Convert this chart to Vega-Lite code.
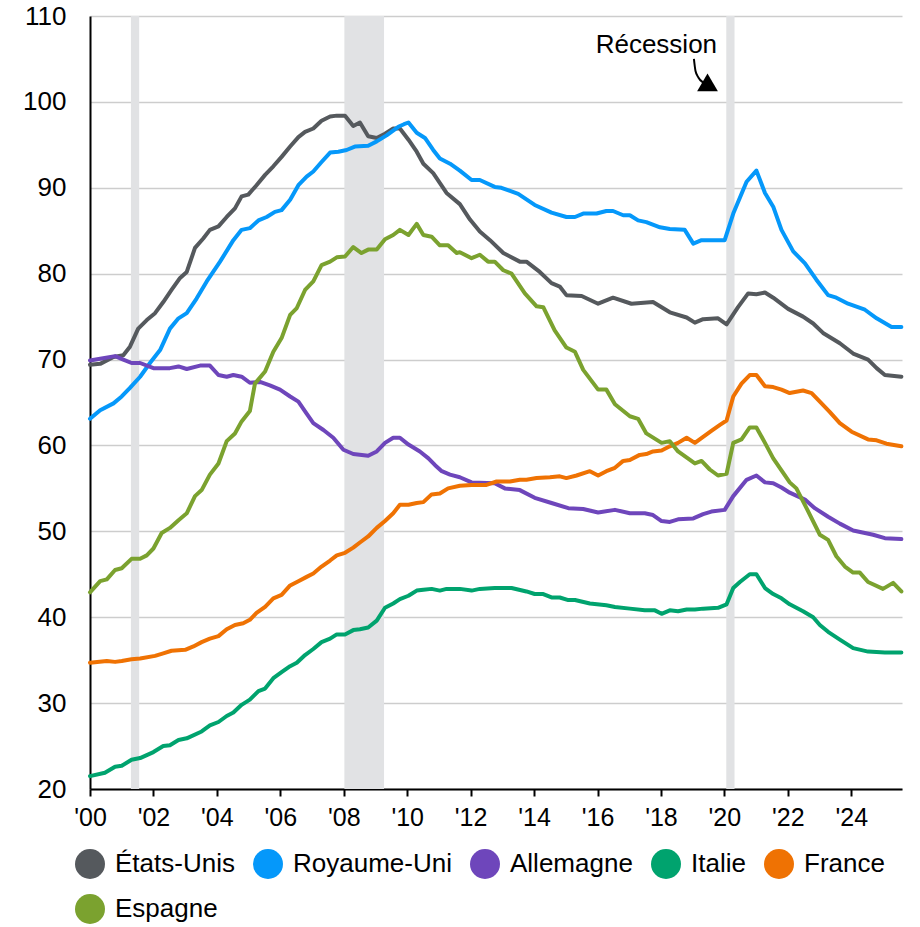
{
  "$schema": "https://vega.github.io/schema/vega-lite/v6.json",
  "autosize": "none",
  "width": 812,
  "height": 773,
  "padding": {"left": 90, "top": 16, "right": 18, "bottom": 138},
  "background": "white",
  "config": {
    "view": {"stroke": null},
    "font": "Liberation Sans",
    "axis": {"labelFont": "Liberation Sans", "labelColor": "#000000"}
  },
  "datasets": {
    "rec": [
      {"start": 2001.29, "end": 2001.55},
      {"start": 2008.02, "end": 2009.27},
      {"start": 2020.06, "end": 2020.32}
    ],
    "arrowline": [
      {"t": 2019.04, "v": 105.0},
      {"t": 2019.09, "v": 103.6},
      {"t": 2019.18, "v": 102.85},
      {"t": 2019.35, "v": 102.2},
      {"t": 2019.45, "v": 101.95}
    ],
    "arrowhead": [{"t": 2019.55, "v": 101.75}],
    "label": [{"t": 2019.77, "v": 105.7, "txt": "Récession"}],
    "series": [
      {"s":"États-Unis","t":2000.0,"v":69.4},{"s":"États-Unis","t":2000.32,"v":69.5},{"s":"États-Unis","t":2000.74,"v":70.3},{"s":"États-Unis","t":2001.05,"v":70.5},{"s":"États-Unis","t":2001.26,"v":71.5},{"s":"États-Unis","t":2001.52,"v":73.6},{"s":"États-Unis","t":2001.79,"v":74.6},{"s":"États-Unis","t":2002.05,"v":75.4},{"s":"États-Unis","t":2002.31,"v":76.7},{"s":"États-Unis","t":2002.57,"v":78.1},{"s":"États-Unis","t":2002.84,"v":79.5},{"s":"États-Unis","t":2003.05,"v":80.2},{"s":"États-Unis","t":2003.31,"v":83.0},{"s":"États-Unis","t":2003.57,"v":84.1},{"s":"États-Unis","t":2003.78,"v":85.1},{"s":"États-Unis","t":2004.05,"v":85.5},{"s":"États-Unis","t":2004.31,"v":86.6},{"s":"États-Unis","t":2004.57,"v":87.6},{"s":"États-Unis","t":2004.78,"v":89.0},{"s":"États-Unis","t":2004.99,"v":89.2},{"s":"États-Unis","t":2005.25,"v":90.3},{"s":"États-Unis","t":2005.52,"v":91.5},{"s":"États-Unis","t":2005.78,"v":92.5},{"s":"États-Unis","t":2006.04,"v":93.6},{"s":"États-Unis","t":2006.31,"v":94.8},{"s":"États-Unis","t":2006.57,"v":95.9},{"s":"États-Unis","t":2006.78,"v":96.5},{"s":"États-Unis","t":2007.04,"v":96.9},{"s":"États-Unis","t":2007.3,"v":97.8},{"s":"États-Unis","t":2007.57,"v":98.3},{"s":"États-Unis","t":2007.78,"v":98.4},{"s":"États-Unis","t":2008.04,"v":98.4},{"s":"États-Unis","t":2008.3,"v":97.2},{"s":"États-Unis","t":2008.51,"v":97.6},{"s":"États-Unis","t":2008.77,"v":96.0},{"s":"États-Unis","t":2009.04,"v":95.8},{"s":"États-Unis","t":2009.3,"v":96.3},{"s":"États-Unis","t":2009.56,"v":96.9},{"s":"États-Unis","t":2009.77,"v":96.9},{"s":"États-Unis","t":2010.04,"v":95.6},{"s":"États-Unis","t":2010.3,"v":94.2},{"s":"États-Unis","t":2010.51,"v":92.8},{"s":"États-Unis","t":2010.82,"v":91.7},{"s":"États-Unis","t":2011.24,"v":89.4},{"s":"États-Unis","t":2011.66,"v":88.1},{"s":"États-Unis","t":2011.98,"v":86.3},{"s":"États-Unis","t":2012.29,"v":84.9},{"s":"États-Unis","t":2012.61,"v":83.9},{"s":"États-Unis","t":2013.03,"v":82.4},{"s":"États-Unis","t":2013.55,"v":81.4},{"s":"États-Unis","t":2013.76,"v":81.4},{"s":"États-Unis","t":2014.18,"v":80.2},{"s":"États-Unis","t":2014.55,"v":78.9},{"s":"États-Unis","t":2014.81,"v":78.5},{"s":"États-Unis","t":2015.02,"v":77.5},{"s":"États-Unis","t":2015.5,"v":77.4},{"s":"États-Unis","t":2016.02,"v":76.5},{"s":"États-Unis","t":2016.49,"v":77.2},{"s":"États-Unis","t":2017.07,"v":76.5},{"s":"États-Unis","t":2017.75,"v":76.7},{"s":"États-Unis","t":2018.28,"v":75.5},{"s":"États-Unis","t":2018.81,"v":74.9},{"s":"États-Unis","t":2019.07,"v":74.3},{"s":"États-Unis","t":2019.33,"v":74.7},{"s":"États-Unis","t":2019.8,"v":74.8},{"s":"États-Unis","t":2020.07,"v":74.1},{"s":"États-Unis","t":2020.43,"v":76.1},{"s":"États-Unis","t":2020.75,"v":77.7},{"s":"États-Unis","t":2021.01,"v":77.6},{"s":"États-Unis","t":2021.28,"v":77.8},{"s":"États-Unis","t":2021.54,"v":77.2},{"s":"États-Unis","t":2022.01,"v":75.9},{"s":"États-Unis","t":2022.48,"v":75.0},{"s":"États-Unis","t":2022.8,"v":74.2},{"s":"États-Unis","t":2023.11,"v":73.1},{"s":"États-Unis","t":2023.64,"v":71.9},{"s":"États-Unis","t":2024.06,"v":70.7},{"s":"États-Unis","t":2024.53,"v":70.0},{"s":"États-Unis","t":2024.8,"v":69.0},{"s":"États-Unis","t":2025.06,"v":68.2},{"s":"États-Unis","t":2025.58,"v":68.0},

      {"s":"Royaume-Uni","t":2000.0,"v":63.1},{"s":"Royaume-Uni","t":2000.32,"v":64.1},{"s":"Royaume-Uni","t":2000.74,"v":64.9},{"s":"Royaume-Uni","t":2001.0,"v":65.7},{"s":"Royaume-Uni","t":2001.26,"v":66.7},{"s":"Royaume-Uni","t":2001.58,"v":68.0},{"s":"Royaume-Uni","t":2001.89,"v":69.6},{"s":"Royaume-Uni","t":2002.21,"v":71.1},{"s":"Royaume-Uni","t":2002.52,"v":73.6},{"s":"Royaume-Uni","t":2002.79,"v":74.8},{"s":"Royaume-Uni","t":2003.05,"v":75.4},{"s":"Royaume-Uni","t":2003.36,"v":77.1},{"s":"Royaume-Uni","t":2003.68,"v":79.1},{"s":"Royaume-Uni","t":2004.1,"v":81.4},{"s":"Royaume-Uni","t":2004.52,"v":83.9},{"s":"Royaume-Uni","t":2004.78,"v":85.1},{"s":"Royaume-Uni","t":2005.04,"v":85.3},{"s":"Royaume-Uni","t":2005.31,"v":86.2},{"s":"Royaume-Uni","t":2005.57,"v":86.6},{"s":"Royaume-Uni","t":2005.83,"v":87.2},{"s":"Royaume-Uni","t":2006.04,"v":87.4},{"s":"Royaume-Uni","t":2006.31,"v":88.6},{"s":"Royaume-Uni","t":2006.57,"v":90.3},{"s":"Royaume-Uni","t":2006.83,"v":91.3},{"s":"Royaume-Uni","t":2007.04,"v":91.9},{"s":"Royaume-Uni","t":2007.3,"v":93.0},{"s":"Royaume-Uni","t":2007.57,"v":94.1},{"s":"Royaume-Uni","t":2007.83,"v":94.2},{"s":"Royaume-Uni","t":2008.09,"v":94.4},{"s":"Royaume-Uni","t":2008.35,"v":94.8},{"s":"Royaume-Uni","t":2008.77,"v":94.9},{"s":"Royaume-Uni","t":2009.04,"v":95.4},{"s":"Royaume-Uni","t":2009.35,"v":96.1},{"s":"Royaume-Uni","t":2009.72,"v":97.1},{"s":"Royaume-Uni","t":2009.9,"v":97.4},{"s":"Royaume-Uni","t":2010.04,"v":97.6},{"s":"Royaume-Uni","t":2010.3,"v":96.4},{"s":"Royaume-Uni","t":2010.56,"v":95.8},{"s":"Royaume-Uni","t":2010.82,"v":94.4},{"s":"Royaume-Uni","t":2011.03,"v":93.4},{"s":"Royaume-Uni","t":2011.35,"v":92.8},{"s":"Royaume-Uni","t":2011.66,"v":92.0},{"s":"Royaume-Uni","t":2012.03,"v":90.9},{"s":"Royaume-Uni","t":2012.29,"v":90.9},{"s":"Royaume-Uni","t":2012.76,"v":90.1},{"s":"Royaume-Uni","t":2012.97,"v":90.0},{"s":"Royaume-Uni","t":2013.5,"v":89.3},{"s":"Royaume-Uni","t":2014.02,"v":88.0},{"s":"Royaume-Uni","t":2014.55,"v":87.1},{"s":"Royaume-Uni","t":2015.02,"v":86.6},{"s":"Royaume-Uni","t":2015.29,"v":86.6},{"s":"Royaume-Uni","t":2015.55,"v":87.0},{"s":"Royaume-Uni","t":2015.97,"v":87.0},{"s":"Royaume-Uni","t":2016.28,"v":87.3},{"s":"Royaume-Uni","t":2016.49,"v":87.3},{"s":"Royaume-Uni","t":2016.81,"v":86.8},{"s":"Royaume-Uni","t":2017.02,"v":86.8},{"s":"Royaume-Uni","t":2017.28,"v":86.2},{"s":"Royaume-Uni","t":2017.54,"v":86.0},{"s":"Royaume-Uni","t":2017.97,"v":85.4},{"s":"Royaume-Uni","t":2018.28,"v":85.2},{"s":"Royaume-Uni","t":2018.75,"v":85.1},{"s":"Royaume-Uni","t":2019.02,"v":83.5},{"s":"Royaume-Uni","t":2019.28,"v":83.9},{"s":"Royaume-Uni","t":2020.01,"v":83.9},{"s":"Royaume-Uni","t":2020.28,"v":87.0},{"s":"Royaume-Uni","t":2020.7,"v":90.7},{"s":"Royaume-Uni","t":2021.01,"v":92.0},{"s":"Royaume-Uni","t":2021.28,"v":89.4},{"s":"Royaume-Uni","t":2021.54,"v":87.8},{"s":"Royaume-Uni","t":2021.8,"v":85.1},{"s":"Royaume-Uni","t":2022.17,"v":82.6},{"s":"Royaume-Uni","t":2022.54,"v":81.2},{"s":"Royaume-Uni","t":2022.9,"v":79.3},{"s":"Royaume-Uni","t":2023.27,"v":77.5},{"s":"Royaume-Uni","t":2023.53,"v":77.2},{"s":"Royaume-Uni","t":2023.9,"v":76.5},{"s":"Royaume-Uni","t":2024.43,"v":75.8},{"s":"Royaume-Uni","t":2024.8,"v":74.8},{"s":"Royaume-Uni","t":2025.27,"v":73.8},{"s":"Royaume-Uni","t":2025.58,"v":73.8},

      {"s":"Allemagne","t":2000.0,"v":69.9},{"s":"Allemagne","t":2000.32,"v":70.1},{"s":"Allemagne","t":2000.79,"v":70.4},{"s":"Allemagne","t":2001.05,"v":70.0},{"s":"Allemagne","t":2001.31,"v":69.6},{"s":"Allemagne","t":2001.58,"v":69.6},{"s":"Allemagne","t":2002.0,"v":69.0},{"s":"Allemagne","t":2002.52,"v":69.0},{"s":"Allemagne","t":2002.79,"v":69.2},{"s":"Allemagne","t":2003.05,"v":68.9},{"s":"Allemagne","t":2003.47,"v":69.3},{"s":"Allemagne","t":2003.78,"v":69.3},{"s":"Allemagne","t":2004.05,"v":68.2},{"s":"Allemagne","t":2004.31,"v":68.0},{"s":"Allemagne","t":2004.52,"v":68.2},{"s":"Allemagne","t":2004.78,"v":68.0},{"s":"Allemagne","t":2005.04,"v":67.3},{"s":"Allemagne","t":2005.36,"v":67.4},{"s":"Allemagne","t":2005.67,"v":67.0},{"s":"Allemagne","t":2005.99,"v":66.5},{"s":"Allemagne","t":2006.31,"v":65.7},{"s":"Allemagne","t":2006.57,"v":65.1},{"s":"Allemagne","t":2006.83,"v":63.7},{"s":"Allemagne","t":2007.04,"v":62.6},{"s":"Allemagne","t":2007.36,"v":61.8},{"s":"Allemagne","t":2007.67,"v":60.9},{"s":"Allemagne","t":2007.99,"v":59.5},{"s":"Allemagne","t":2008.3,"v":59.0},{"s":"Allemagne","t":2008.77,"v":58.8},{"s":"Allemagne","t":2009.04,"v":59.3},{"s":"Allemagne","t":2009.3,"v":60.3},{"s":"Allemagne","t":2009.56,"v":60.9},{"s":"Allemagne","t":2009.77,"v":60.9},{"s":"Allemagne","t":2010.04,"v":60.1},{"s":"Allemagne","t":2010.4,"v":59.3},{"s":"Allemagne","t":2010.67,"v":58.5},{"s":"Allemagne","t":2010.88,"v":57.7},{"s":"Allemagne","t":2011.09,"v":57.0},{"s":"Allemagne","t":2011.35,"v":56.6},{"s":"Allemagne","t":2011.66,"v":56.3},{"s":"Allemagne","t":2012.03,"v":55.7},{"s":"Allemagne","t":2012.76,"v":55.6},{"s":"Allemagne","t":2013.08,"v":55.0},{"s":"Allemagne","t":2013.55,"v":54.8},{"s":"Allemagne","t":2014.02,"v":53.9},{"s":"Allemagne","t":2014.55,"v":53.3},{"s":"Allemagne","t":2015.08,"v":52.7},{"s":"Allemagne","t":2015.55,"v":52.6},{"s":"Allemagne","t":2016.02,"v":52.2},{"s":"Allemagne","t":2016.55,"v":52.5},{"s":"Allemagne","t":2017.02,"v":52.1},{"s":"Allemagne","t":2017.49,"v":52.1},{"s":"Allemagne","t":2017.75,"v":51.9},{"s":"Allemagne","t":2018.02,"v":51.2},{"s":"Allemagne","t":2018.28,"v":51.1},{"s":"Allemagne","t":2018.54,"v":51.4},{"s":"Allemagne","t":2019.02,"v":51.5},{"s":"Allemagne","t":2019.33,"v":52.0},{"s":"Allemagne","t":2019.59,"v":52.3},{"s":"Allemagne","t":2020.01,"v":52.5},{"s":"Allemagne","t":2020.28,"v":54.1},{"s":"Allemagne","t":2020.7,"v":56.0},{"s":"Allemagne","t":2021.01,"v":56.5},{"s":"Allemagne","t":2021.28,"v":55.7},{"s":"Allemagne","t":2021.54,"v":55.6},{"s":"Allemagne","t":2021.8,"v":55.1},{"s":"Allemagne","t":2022.06,"v":54.5},{"s":"Allemagne","t":2022.54,"v":53.7},{"s":"Allemagne","t":2022.85,"v":52.7},{"s":"Allemagne","t":2023.27,"v":51.7},{"s":"Allemagne","t":2023.64,"v":50.9},{"s":"Allemagne","t":2024.06,"v":50.1},{"s":"Allemagne","t":2024.69,"v":49.6},{"s":"Allemagne","t":2025.06,"v":49.2},{"s":"Allemagne","t":2025.58,"v":49.1},

      {"s":"Italie","t":2000.0,"v":21.5},{"s":"Italie","t":2000.47,"v":21.9},{"s":"Italie","t":2000.79,"v":22.6},{"s":"Italie","t":2001.0,"v":22.7},{"s":"Italie","t":2001.31,"v":23.4},{"s":"Italie","t":2001.58,"v":23.6},{"s":"Italie","t":2002.0,"v":24.3},{"s":"Italie","t":2002.31,"v":25.0},{"s":"Italie","t":2002.52,"v":25.1},{"s":"Italie","t":2002.79,"v":25.7},{"s":"Italie","t":2003.05,"v":25.9},{"s":"Italie","t":2003.52,"v":26.7},{"s":"Italie","t":2003.78,"v":27.4},{"s":"Italie","t":2004.05,"v":27.8},{"s":"Italie","t":2004.31,"v":28.5},{"s":"Italie","t":2004.52,"v":28.9},{"s":"Italie","t":2004.78,"v":29.8},{"s":"Italie","t":2005.04,"v":30.4},{"s":"Italie","t":2005.31,"v":31.4},{"s":"Italie","t":2005.52,"v":31.7},{"s":"Italie","t":2005.78,"v":32.9},{"s":"Italie","t":2006.04,"v":33.6},{"s":"Italie","t":2006.31,"v":34.3},{"s":"Italie","t":2006.52,"v":34.7},{"s":"Italie","t":2006.78,"v":35.6},{"s":"Italie","t":2007.04,"v":36.3},{"s":"Italie","t":2007.3,"v":37.1},{"s":"Italie","t":2007.57,"v":37.5},{"s":"Italie","t":2007.78,"v":38.0},{"s":"Italie","t":2008.04,"v":38.0},{"s":"Italie","t":2008.3,"v":38.5},{"s":"Italie","t":2008.51,"v":38.6},{"s":"Italie","t":2008.77,"v":38.8},{"s":"Italie","t":2009.04,"v":39.6},{"s":"Italie","t":2009.3,"v":41.1},{"s":"Italie","t":2009.56,"v":41.6},{"s":"Italie","t":2009.77,"v":42.1},{"s":"Italie","t":2010.04,"v":42.5},{"s":"Italie","t":2010.3,"v":43.1},{"s":"Italie","t":2010.51,"v":43.2},{"s":"Italie","t":2010.77,"v":43.3},{"s":"Italie","t":2011.03,"v":43.1},{"s":"Italie","t":2011.24,"v":43.3},{"s":"Italie","t":2011.66,"v":43.3},{"s":"Italie","t":2012.03,"v":43.1},{"s":"Italie","t":2012.29,"v":43.3},{"s":"Italie","t":2012.76,"v":43.4},{"s":"Italie","t":2013.29,"v":43.4},{"s":"Italie","t":2013.76,"v":43.0},{"s":"Italie","t":2014.02,"v":42.7},{"s":"Italie","t":2014.29,"v":42.7},{"s":"Italie","t":2014.55,"v":42.3},{"s":"Italie","t":2014.81,"v":42.3},{"s":"Italie","t":2015.08,"v":42.0},{"s":"Italie","t":2015.29,"v":42.0},{"s":"Italie","t":2015.76,"v":41.6},{"s":"Italie","t":2016.28,"v":41.4},{"s":"Italie","t":2016.55,"v":41.2},{"s":"Italie","t":2017.02,"v":41.0},{"s":"Italie","t":2017.49,"v":40.8},{"s":"Italie","t":2017.81,"v":40.8},{"s":"Italie","t":2018.02,"v":40.4},{"s":"Italie","t":2018.28,"v":40.8},{"s":"Italie","t":2018.54,"v":40.7},{"s":"Italie","t":2018.81,"v":40.9},{"s":"Italie","t":2019.07,"v":40.9},{"s":"Italie","t":2019.33,"v":41.0},{"s":"Italie","t":2019.8,"v":41.1},{"s":"Italie","t":2020.07,"v":41.5},{"s":"Italie","t":2020.28,"v":43.4},{"s":"Italie","t":2020.49,"v":44.1},{"s":"Italie","t":2020.8,"v":45.0},{"s":"Italie","t":2021.01,"v":45.0},{"s":"Italie","t":2021.28,"v":43.4},{"s":"Italie","t":2021.54,"v":42.7},{"s":"Italie","t":2021.8,"v":42.2},{"s":"Italie","t":2022.06,"v":41.5},{"s":"Italie","t":2022.48,"v":40.7},{"s":"Italie","t":2022.8,"v":40.0},{"s":"Italie","t":2023.01,"v":39.1},{"s":"Italie","t":2023.27,"v":38.3},{"s":"Italie","t":2023.64,"v":37.4},{"s":"Italie","t":2024.06,"v":36.4},{"s":"Italie","t":2024.53,"v":36.0},{"s":"Italie","t":2025.06,"v":35.9},{"s":"Italie","t":2025.58,"v":35.9},

      {"s":"France","t":2000.0,"v":34.7},{"s":"France","t":2000.53,"v":34.9},{"s":"France","t":2000.79,"v":34.8},{"s":"France","t":2001.0,"v":34.9},{"s":"France","t":2001.31,"v":35.1},{"s":"France","t":2001.58,"v":35.2},{"s":"France","t":2002.05,"v":35.5},{"s":"France","t":2002.31,"v":35.8},{"s":"France","t":2002.57,"v":36.1},{"s":"France","t":2003.0,"v":36.2},{"s":"France","t":2003.26,"v":36.6},{"s":"France","t":2003.52,"v":37.1},{"s":"France","t":2003.78,"v":37.5},{"s":"France","t":2004.05,"v":37.8},{"s":"France","t":2004.31,"v":38.6},{"s":"France","t":2004.57,"v":39.1},{"s":"France","t":2004.83,"v":39.3},{"s":"France","t":2005.04,"v":39.7},{"s":"France","t":2005.25,"v":40.5},{"s":"France","t":2005.52,"v":41.2},{"s":"France","t":2005.78,"v":42.2},{"s":"France","t":2006.04,"v":42.6},{"s":"France","t":2006.31,"v":43.7},{"s":"France","t":2006.57,"v":44.2},{"s":"France","t":2006.83,"v":44.7},{"s":"France","t":2007.04,"v":45.1},{"s":"France","t":2007.3,"v":45.9},{"s":"France","t":2007.57,"v":46.6},{"s":"France","t":2007.78,"v":47.2},{"s":"France","t":2008.04,"v":47.5},{"s":"France","t":2008.3,"v":48.1},{"s":"France","t":2008.51,"v":48.7},{"s":"France","t":2008.77,"v":49.4},{"s":"France","t":2009.04,"v":50.4},{"s":"France","t":2009.3,"v":51.2},{"s":"France","t":2009.56,"v":52.1},{"s":"France","t":2009.77,"v":53.1},{"s":"France","t":2010.04,"v":53.1},{"s":"France","t":2010.3,"v":53.3},{"s":"France","t":2010.51,"v":53.4},{"s":"France","t":2010.77,"v":54.3},{"s":"France","t":2011.03,"v":54.4},{"s":"France","t":2011.29,"v":55.0},{"s":"France","t":2011.66,"v":55.3},{"s":"France","t":2012.03,"v":55.4},{"s":"France","t":2012.5,"v":55.4},{"s":"France","t":2012.82,"v":55.8},{"s":"France","t":2013.24,"v":55.8},{"s":"France","t":2013.55,"v":56.0},{"s":"France","t":2013.76,"v":56.0},{"s":"France","t":2014.08,"v":56.2},{"s":"France","t":2014.5,"v":56.3},{"s":"France","t":2014.81,"v":56.4},{"s":"France","t":2015.02,"v":56.2},{"s":"France","t":2015.34,"v":56.5},{"s":"France","t":2015.76,"v":57.0},{"s":"France","t":2016.02,"v":56.5},{"s":"France","t":2016.28,"v":57.0},{"s":"France","t":2016.55,"v":57.4},{"s":"France","t":2016.81,"v":58.2},{"s":"France","t":2017.02,"v":58.3},{"s":"France","t":2017.33,"v":58.9},{"s":"France","t":2017.54,"v":59.0},{"s":"France","t":2017.75,"v":59.3},{"s":"France","t":2018.02,"v":59.4},{"s":"France","t":2018.28,"v":59.9},{"s":"France","t":2018.54,"v":60.3},{"s":"France","t":2018.81,"v":60.9},{"s":"France","t":2019.07,"v":60.3},{"s":"France","t":2019.33,"v":61.0},{"s":"France","t":2019.59,"v":61.7},{"s":"France","t":2019.86,"v":62.4},{"s":"France","t":2020.07,"v":62.9},{"s":"France","t":2020.28,"v":65.7},{"s":"France","t":2020.54,"v":67.2},{"s":"France","t":2020.8,"v":68.2},{"s":"France","t":2021.01,"v":68.2},{"s":"France","t":2021.28,"v":66.9},{"s":"France","t":2021.54,"v":66.8},{"s":"France","t":2021.8,"v":66.5},{"s":"France","t":2022.06,"v":66.1},{"s":"France","t":2022.48,"v":66.4},{"s":"France","t":2022.75,"v":66.1},{"s":"France","t":2023.01,"v":65.1},{"s":"France","t":2023.32,"v":63.9},{"s":"France","t":2023.64,"v":62.6},{"s":"France","t":2024.01,"v":61.6},{"s":"France","t":2024.53,"v":60.7},{"s":"France","t":2024.8,"v":60.6},{"s":"France","t":2025.11,"v":60.2},{"s":"France","t":2025.58,"v":59.9},

      {"s":"Espagne","t":2000.0,"v":42.9},{"s":"Espagne","t":2000.32,"v":44.2},{"s":"Espagne","t":2000.53,"v":44.4},{"s":"Espagne","t":2000.79,"v":45.5},{"s":"Espagne","t":2001.0,"v":45.7},{"s":"Espagne","t":2001.31,"v":46.8},{"s":"Espagne","t":2001.58,"v":46.8},{"s":"Espagne","t":2001.79,"v":47.2},{"s":"Espagne","t":2002.0,"v":48.0},{"s":"Espagne","t":2002.26,"v":49.8},{"s":"Espagne","t":2002.52,"v":50.4},{"s":"Espagne","t":2002.79,"v":51.3},{"s":"Espagne","t":2003.05,"v":52.1},{"s":"Espagne","t":2003.31,"v":54.1},{"s":"Espagne","t":2003.52,"v":54.8},{"s":"Espagne","t":2003.78,"v":56.6},{"s":"Espagne","t":2004.05,"v":57.9},{"s":"Espagne","t":2004.31,"v":60.5},{"s":"Espagne","t":2004.57,"v":61.4},{"s":"Espagne","t":2004.78,"v":62.8},{"s":"Espagne","t":2005.04,"v":64.0},{"s":"Espagne","t":2005.2,"v":67.2},{"s":"Espagne","t":2005.52,"v":68.6},{"s":"Espagne","t":2005.78,"v":70.9},{"s":"Espagne","t":2006.04,"v":72.5},{"s":"Espagne","t":2006.31,"v":75.2},{"s":"Espagne","t":2006.52,"v":76.0},{"s":"Espagne","t":2006.78,"v":78.1},{"s":"Espagne","t":2007.04,"v":79.1},{"s":"Espagne","t":2007.3,"v":81.0},{"s":"Espagne","t":2007.57,"v":81.4},{"s":"Espagne","t":2007.78,"v":81.9},{"s":"Espagne","t":2008.04,"v":82.0},{"s":"Espagne","t":2008.3,"v":83.1},{"s":"Espagne","t":2008.56,"v":82.4},{"s":"Espagne","t":2008.77,"v":82.8},{"s":"Espagne","t":2009.04,"v":82.8},{"s":"Espagne","t":2009.3,"v":84.0},{"s":"Espagne","t":2009.56,"v":84.5},{"s":"Espagne","t":2009.77,"v":85.1},{"s":"Espagne","t":2010.04,"v":84.5},{"s":"Espagne","t":2010.3,"v":85.8},{"s":"Espagne","t":2010.51,"v":84.5},{"s":"Espagne","t":2010.77,"v":84.3},{"s":"Espagne","t":2011.03,"v":83.3},{"s":"Espagne","t":2011.29,"v":83.3},{"s":"Espagne","t":2011.56,"v":82.4},{"s":"Espagne","t":2011.66,"v":82.5},{"s":"Espagne","t":2012.03,"v":81.8},{"s":"Espagne","t":2012.29,"v":82.2},{"s":"Espagne","t":2012.55,"v":81.4},{"s":"Espagne","t":2012.76,"v":81.4},{"s":"Espagne","t":2013.03,"v":80.4},{"s":"Espagne","t":2013.29,"v":80.0},{"s":"Espagne","t":2013.71,"v":77.7},{"s":"Espagne","t":2014.08,"v":76.2},{"s":"Espagne","t":2014.29,"v":76.1},{"s":"Espagne","t":2014.65,"v":73.4},{"s":"Espagne","t":2015.02,"v":71.4},{"s":"Espagne","t":2015.29,"v":70.9},{"s":"Espagne","t":2015.55,"v":68.8},{"s":"Espagne","t":2016.02,"v":66.5},{"s":"Espagne","t":2016.28,"v":66.5},{"s":"Espagne","t":2016.55,"v":64.8},{"s":"Espagne","t":2017.02,"v":63.4},{"s":"Espagne","t":2017.28,"v":63.1},{"s":"Espagne","t":2017.54,"v":61.4},{"s":"Espagne","t":2018.02,"v":60.3},{"s":"Espagne","t":2018.28,"v":60.5},{"s":"Espagne","t":2018.54,"v":59.3},{"s":"Espagne","t":2019.07,"v":57.9},{"s":"Espagne","t":2019.28,"v":58.2},{"s":"Espagne","t":2019.54,"v":57.2},{"s":"Espagne","t":2019.8,"v":56.5},{"s":"Espagne","t":2020.07,"v":56.7},{"s":"Espagne","t":2020.28,"v":60.3},{"s":"Espagne","t":2020.54,"v":60.7},{"s":"Espagne","t":2020.8,"v":62.1},{"s":"Espagne","t":2021.01,"v":62.1},{"s":"Espagne","t":2021.28,"v":60.3},{"s":"Espagne","t":2021.54,"v":58.5},{"s":"Espagne","t":2021.8,"v":57.1},{"s":"Espagne","t":2022.06,"v":55.7},{"s":"Espagne","t":2022.27,"v":55.0},{"s":"Espagne","t":2022.59,"v":52.7},{"s":"Espagne","t":2023.01,"v":49.6},{"s":"Espagne","t":2023.27,"v":49.0},{"s":"Espagne","t":2023.53,"v":47.1},{"s":"Espagne","t":2023.8,"v":45.9},{"s":"Espagne","t":2024.06,"v":45.2},{"s":"Espagne","t":2024.27,"v":45.2},{"s":"Espagne","t":2024.53,"v":44.1},{"s":"Espagne","t":2025.0,"v":43.3},{"s":"Espagne","t":2025.32,"v":44.0},{"s":"Espagne","t":2025.58,"v":43.0}
    ]
  },
  "layer": [
    {
      "data": {"name": "rec"},
      "mark": {"type": "rect", "color": "#e1e2e4"},
      "encoding": {
        "x": {"field": "start", "type": "quantitative", "scale": {"domain": [2000, 2025.6], "nice": false, "zero": false},
          "axis": {
            "values": [2000, 2002, 2004, 2006, 2008, 2010, 2012, 2014, 2016, 2018, 2020, 2022, 2024],
            "labelExpr": "\"'\" + substring(toString(datum.value), 2, 4)",
            "labelFlush": false, "labelOverlap": false,
            "title": null, "grid": false,
            "domainColor": "#000000", "domainWidth": 2,
            "tickColor": "#000000", "tickWidth": 2, "tickSize": 7,
            "labelFontSize": 25, "labelPadding": 9, "labelFont": "Liberation Sans", "labelColor": "#000000"
          }
        },
        "x2": {"field": "end"}
      }
    },
    {
      "data": {"name": "series"},
      "mark": {"type": "line", "strokeWidth": 4, "strokeJoin": "round", "strokeCap": "round"},
      "encoding": {
        "x": {"field": "t", "type": "quantitative"},
        "y": {"field": "v", "type": "quantitative",
          "scale": {"domain": [20, 110], "nice": false, "zero": false},
          "axis": {
            "values": [20, 30, 40, 50, 60, 70, 80, 90, 100, 110],
            "title": null, "grid": true, "gridColor": "#cdcdcd", "gridWidth": 1.5,
            "domainColor": "#000000", "domainWidth": 2,
            "ticks": false, "tickSize": 0,
            "labelFontSize": 26, "labelPadding": 24, "labelFont": "Liberation Sans", "labelColor": "#000000"
          }
        },
        "color": {
          "field": "s", "type": "nominal",
          "scale": {
            "domain": ["États-Unis", "Royaume-Uni", "Allemagne", "Italie", "France", "Espagne"],
            "range": ["#55595d", "#0598fa", "#6e46bb", "#00a36e", "#ef7203", "#7ba22f"]
          },
          "legend": {
            "title": null, "orient": "none", "legendX": -15, "legendY": 833,
            "direction": "horizontal", "columns": 5, "gridAlign": "none",
            "columnPadding": 18, "rowPadding": 15, "padding": 0,
            "symbolType": "circle", "symbolSize": 900, "symbolStrokeWidth": 0, "symbolOpacity": 1,
            "labelFont": "Liberation Sans", "labelFontSize": 26, "labelColor": "#000000",
            "labelOffset": 10, "labelLimit": 400,
            "encode": {"symbols": {"update": {"fill": {"scale": "color", "field": "value"}, "opacity": {"value": 1}}}}
          }
        },
        "order": {"field": "t", "type": "quantitative"}
      }
    },
    {
      "data": {"name": "arrowline"},
      "mark": {"type": "line", "color": "#000000", "strokeWidth": 2, "interpolate": "monotone"},
      "encoding": {
        "x": {"field": "t", "type": "quantitative"},
        "y": {"field": "v", "type": "quantitative"}
      }
    },
    {
      "data": {"name": "arrowhead"},
      "mark": {"type": "point", "shape": "triangle-right", "filled": true, "color": "#000000", "opacity": 1, "size": 430, "angle": 30},
      "encoding": {
        "x": {"field": "t", "type": "quantitative"},
        "y": {"field": "v", "type": "quantitative"}
      }
    },
    {
      "data": {"name": "label"},
      "mark": {"type": "text", "align": "right", "baseline": "alphabetic", "fontSize": 26, "font": "Liberation Sans", "color": "#000000"},
      "encoding": {
        "x": {"field": "t", "type": "quantitative"},
        "y": {"field": "v", "type": "quantitative"},
        "text": {"field": "txt"}
      }
    }
  ]
}
